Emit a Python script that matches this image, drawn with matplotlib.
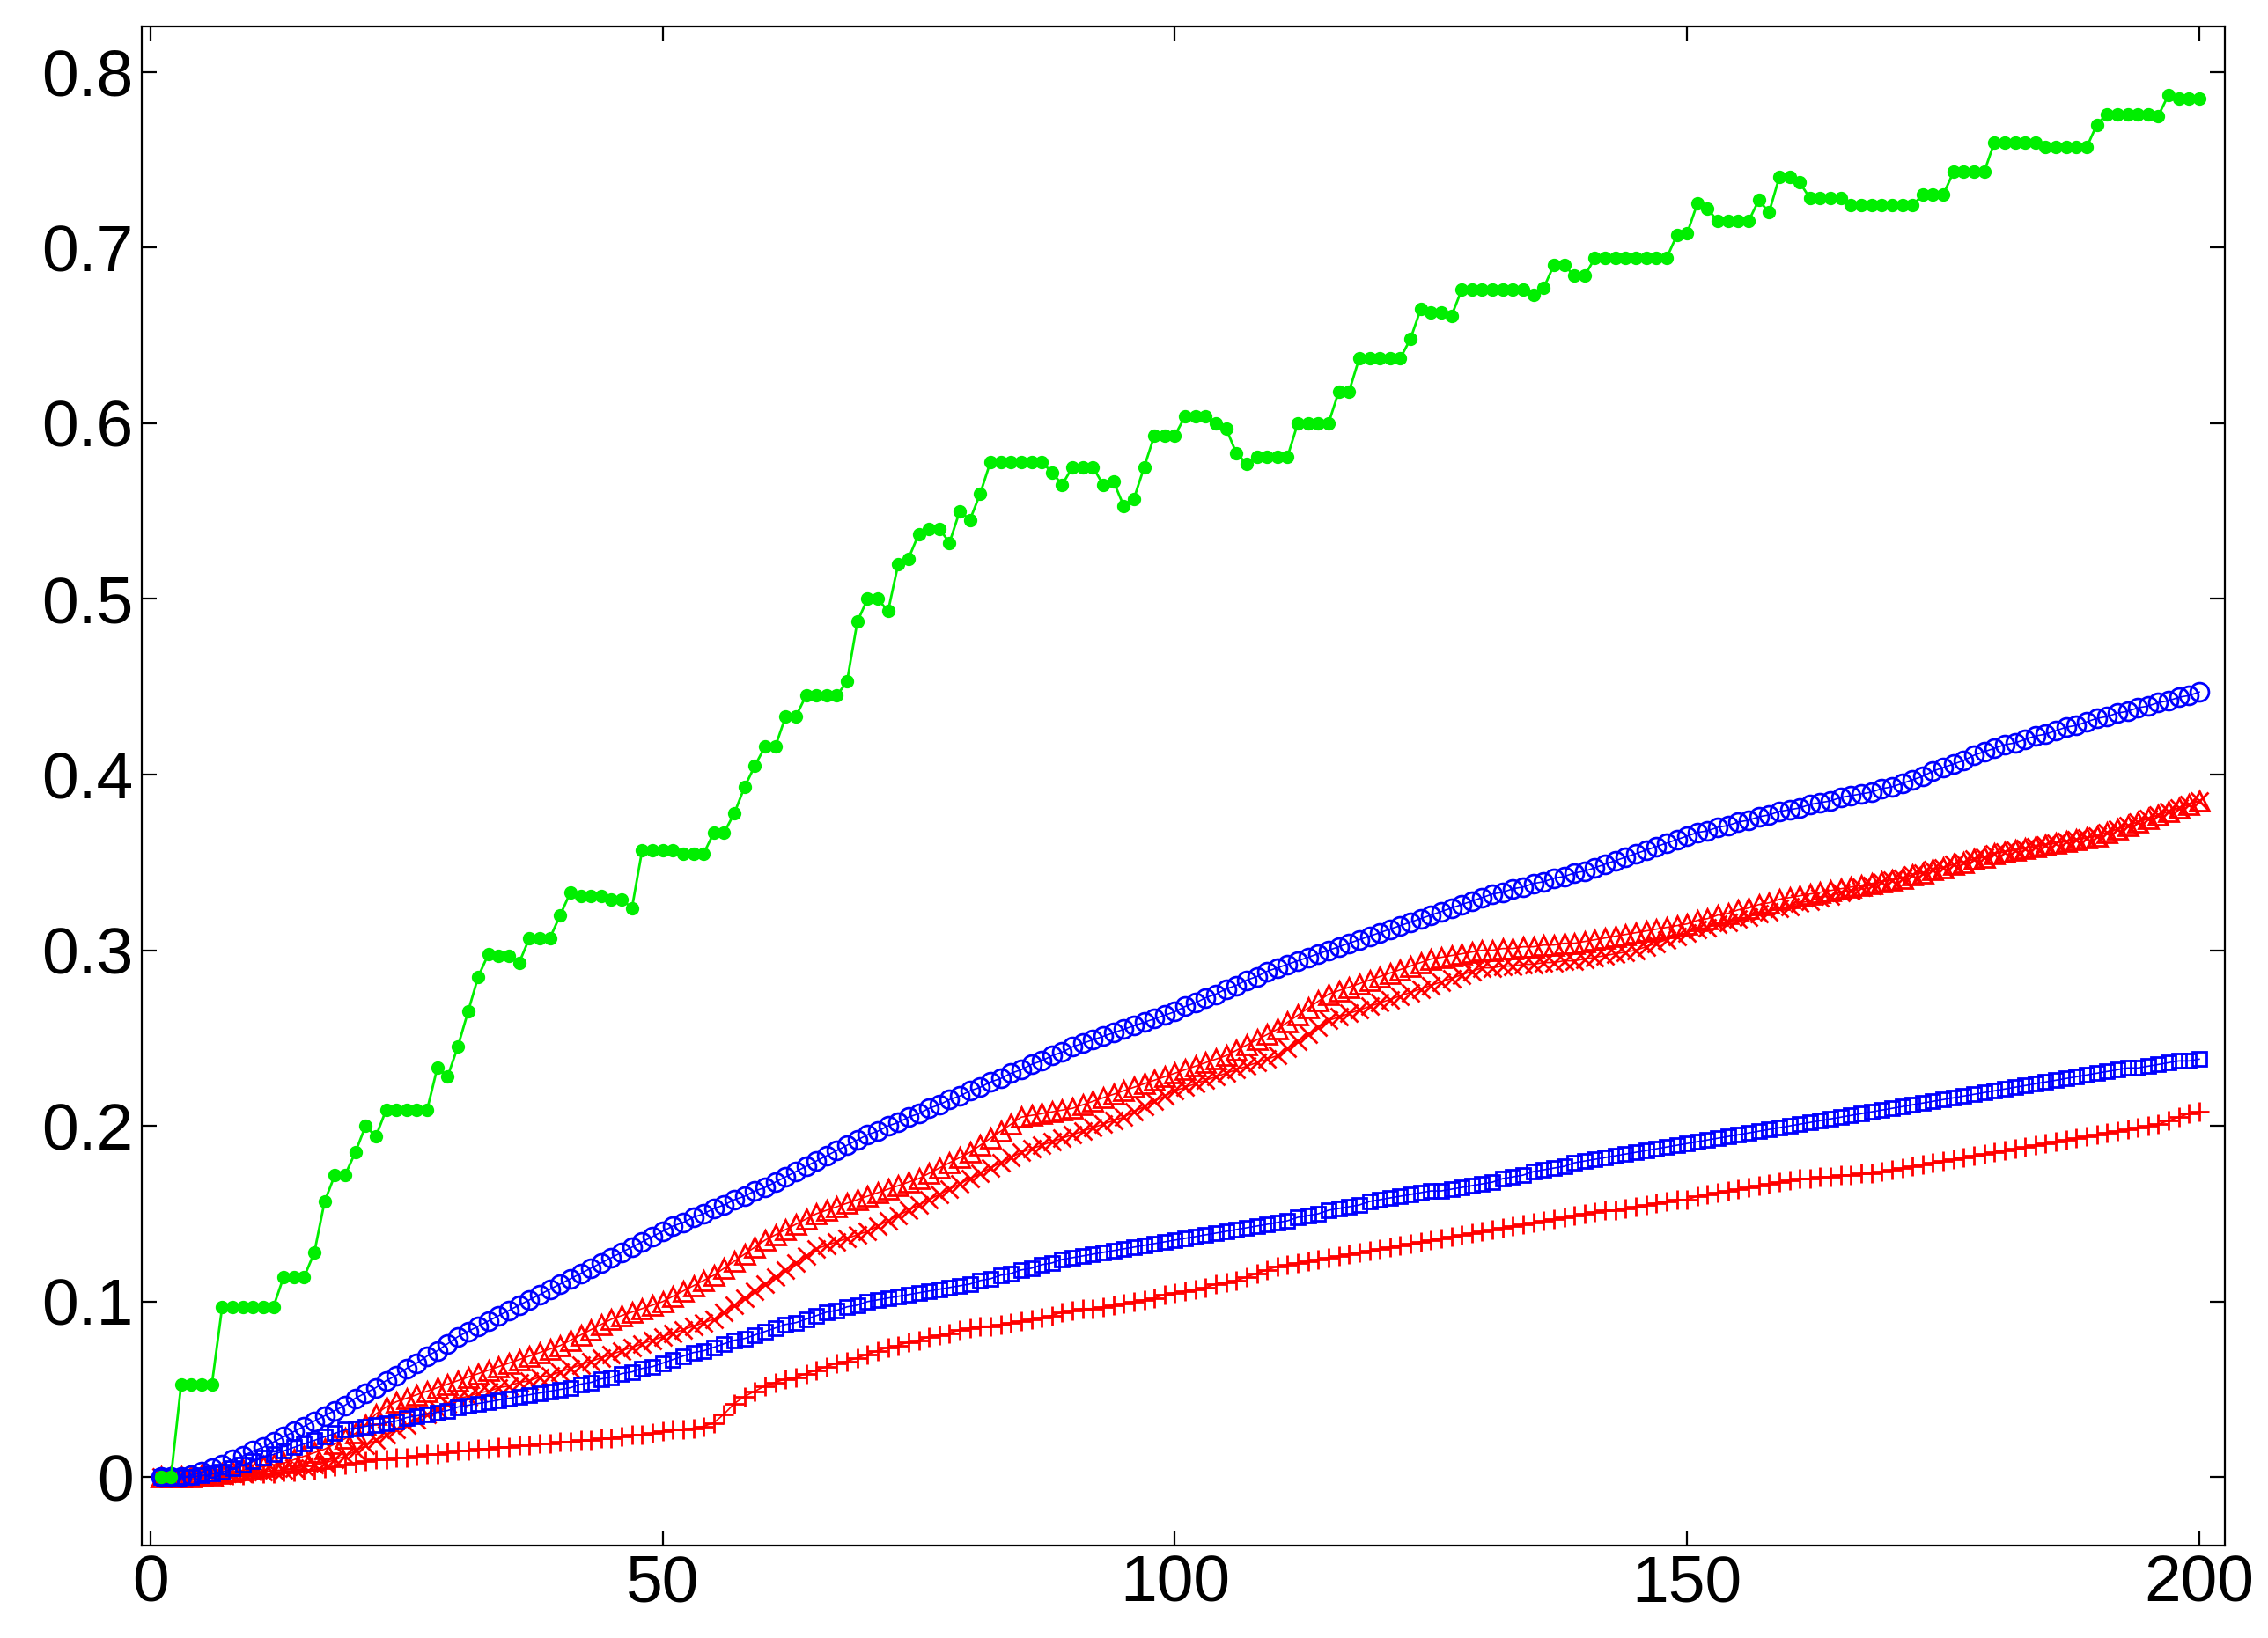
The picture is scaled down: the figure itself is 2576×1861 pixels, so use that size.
import matplotlib
matplotlib.use("Agg")
import matplotlib.pyplot as plt
import numpy as np

x = list(range(1, 201))

green = ([0]*2 + [0.053]*4 + [0.097]*6 + [0.114]*3 + [0.128, 0.157] + [0.172]*2 + [0.185, 0.2, 0.194]
         + [0.209]*5 + [0.233, 0.228, 0.245, 0.265, 0.285, 0.298] + [0.297]*2 + [0.293] + [0.307]*3
         + [0.32, 0.333] + [0.331]*3 + [0.329]*2 + [0.324] + [0.357]*4 + [0.355]*3 + [0.367]*2
         + [0.378, 0.393, 0.405] + [0.416]*2 + [0.433]*2 + [0.445]*4 + [0.453, 0.487] + [0.5]*2
         + [0.493, 0.52, 0.523, 0.537] + [0.54]*2 + [0.532, 0.55, 0.545, 0.56] + [0.578]*6
         + [0.572, 0.565] + [0.575]*3 + [0.565, 0.567, 0.553, 0.557, 0.575] + [0.593]*3 + [0.604]*3
         + [0.6, 0.597, 0.583, 0.577] + [0.581]*4 + [0.6]*4 + [0.618]*2 + [0.637]*5 + [0.648, 0.665]
         + [0.663]*2 + [0.661] + [0.676]*7 + [0.673, 0.677] + [0.69]*2 + [0.684]*2 + [0.694]*8
         + [0.707, 0.708, 0.725, 0.722] + [0.715]*4 + [0.727, 0.72] + [0.74]*2 + [0.737] + [0.728]*4
         + [0.724]*7 + [0.73]*3 + [0.743]*4 + [0.76]*5 + [0.757]*5 + [0.77] + [0.776]*5 + [0.775, 0.787]
         + [0.785]*3)

blue_circle = [0,0,0,1,3,5,7,10,12,15, 17,20,23,26,29,32,35,38,41,45, 48,51,55,58,62,65,69,72,76,80,
    83,86,89,92,95,98,101,104,107,110, 113,116,119,122,125,128,131,134,137,140,
    143,145,148,150,153,155,158,160,163,165, 168,171,174,177,180,183,186,189,192,195,
    197,200,202,205,207,210,212,215,217,220, 222,225,227,230,232,235,237,240,242,245,
    247,249,251,253,255,257,259,261,263,265, 268,270,273,275,278,280,283,285,288,290,
    292,294,296,298,300,302,304,306,308,310, 312,314,316,318,320,322,324,326,328,330,
    332,333,335,336,338,339,341,342,344,345, 347,349,351,353,355,357,359,361,363,365,
    367,368,370,371,373,374,376,377,379,380, 381,383,384,385,387,388,389,390,392,393,
    395,397,399,402,404,406,408,411,413,415, 417,418,420,422,423,425,427,428,430,432,
    433,435,436,438,439,441,442,444,445,447]

blue_square = [0,0,0,0,1,2,3,5,7,9, 11,13,15,17,19,21,23,25,27,28, 29,30,31,32,34,35,36,37,38,40,
    41,42,43,44,45,46,47,48,49,50, 51,53,54,56,57,59,60,62,63,65, 67,69,71,72,74,76,78,79,81,83,
    85,87,88,90,92,94,95,97,98,100, 101,102,103,104,105,106,107,108,109,110,
    112,113,115,116,118,119,121,122,124,125, 126,127,128,129,130,131,132,133,134,135,
    136,137,138,139,140,141,142,143,144,145, 146,148,149,150,152,153,154,155,157,158,
    159,160,161,162,163,163,164,165,166,167, 168,170,171,172,174,175,176,177,179,180,
    181,182,183,184,185,186,187,188,189,190, 191,192,193,194,195,196,197,198,199,200,
    201,202,203,204,205,206,207,208,209,210, 211,212,213,214,215,216,217,218,219,220,
    221,222,223,224,225,226,227,228,229,230, 231,232,233,233,234,235,236,237,237,238]

red_plus = [0,0,0,0,0,0,0,1,1,2, 2,2,3,3,4,4,5,6,7,8, 9,10,10,11,11,12,13,13,14,15,
    15,16,16,17,17,18,18,19,19,20, 20,21,21,22,22,23,24,24,25,26, 27,27,28,29,31,36,42,46,49,52,
    54,56,57,59,61,63,65,66,68,70, 72,74,75,77,78,80,81,82,84,85, 86,86,87,88,89,90,91,92,94,95,
    96,96,97,98,99,100,101,102,104,105, 106,107,108,110,111,112,114,116,118,120,
    121,122,123,124,125,126,127,128,129,130, 131,132,133,134,135,136,137,138,139,140,
    141,142,143,144,145,146,147,148,149,150, 151,152,152,153,154,155,156,157,158,158,
    160,161,162,163,164,165,166,167,168,169, 170,170,171,171,172,172,173,173,174,175,
    176,177,178,179,180,181,182,183,184,185, 186,187,188,189,190,191,192,193,194,195,
    196,197,198,199,200,201,203,205,207,208]

red_triangle = [0,0,0,0,1,1,2,3,4,5, 6,7,8,10,12,14,16,19,22,25, 30,36,40,43,45,47,49,51,53,55,
    57,59,61,63,65,67,69,71,73,75, 78,81,84,87,90,92,94,96,98,100, 103,106,109,112,115,119,123,127,131,135,
    138,141,144,147,150,152,154,156,158,160, 162,164,166,168,170,173,176,179,182,185,
    189,193,197,201,205,206,207,208,209,210, 212,214,216,218,220,222,224,226,228,230,
    232,234,236,238,240,243,246,249,252,255, 259,263,267,271,275,277,279,281,283,285,
    287,289,291,293,295,296,297,298,299,300, 300,301,301,302,302,303,303,304,304,305,
    306,307,308,309,310,311,312,313,314,315, 317,318,320,321,323,324,326,327,329,330,
    331,332,333,334,335,336,337,338,339,340, 341,343,344,346,347,349,350,352,353,355,
    356,357,358,359,360,361,362,363,364,365, 367,369,371,373,375,377,379,381,383,385]

red_cross = [0,0,0,0,0,1,1,2,2,3, 3,4,4,5,6,7,8,10,12,15, 18,21,24,27,30,33,36,39,42,45,
    46,48,49,51,52,54,55,57,58,60, 62,64,66,68,70,72,74,76,78,80, 82,84,86,88,90,94,98,102,106,110,
    114,118,122,126,130,132,134,136,138,140, 143,146,149,152,155,158,161,164,167,170,
    173,176,179,182,185,187,189,191,193,195, 197,199,201,203,205,208,211,214,217,220,
    222,224,226,228,230,232,234,236,238,240, 244,248,252,256,260,262,264,266,268,270,
    272,274,276,278,280,282,284,286,288,290, 290,291,291,292,292,293,293,294,294,295,
    296,297,298,299,300,302,304,306,308,310, 312,313,315,316,318,319,321,322,324,325,
    327,328,330,331,333,334,336,337,339,340, 341,343,344,346,347,349,350,352,353,355,
    356,357,358,359,360,361,362,363,364,365, 367,369,371,373,375,377,379,381,383,385]

def k(v):
    return np.array(v) / 1000.0

plt.rcParams['font.family'] = ['Liberation Sans', 'DejaVu Sans']
fig = plt.figure(figsize=(12.88, 9.305), dpi=200)
ax = fig.add_axes([0.0625, 0.0563, 0.9185, 0.9277])

lw = 0.6
ax.plot(x, k(red_plus), color='red', marker='+', ms=8, lw=lw, mew=1.0)
ax.plot(x, k(red_cross), color='red', marker='x', ms=7, lw=lw, mew=1.0)
ax.plot(x, k(red_triangle), color='red', marker='^', ms=8, lw=lw, mfc='none', mew=1.0)
ax.plot(x, k(blue_square), color='blue', marker='s', ms=6, lw=lw, mfc='none', mew=1.0)
ax.plot(x, k(blue_circle), color='blue', marker='o', ms=7.5, lw=lw, mfc='none', mew=1.0)
n = min(len(x), len(green))
ax.plot(x[:n], green[:n], color='#00ee00', marker='o', ms=4.5, lw=1.0, mfc='#00ee00', mec='#00ee00')

ax.set_xlim(-0.85, 202.5)
ax.set_ylim(-0.039, 0.826)
ax.set_xticks([0, 50, 100, 150, 200])
ax.set_yticks([0, 0.1, 0.2, 0.3, 0.4, 0.5, 0.6, 0.7, 0.8])
ax.set_yticklabels(['0', '0.1', '0.2', '0.3', '0.4', '0.5', '0.6', '0.7', '0.8'])
ax.tick_params(direction='in', top=True, right=True, labelsize=27, length=6, width=0.8)
for s in ax.spines.values():
    s.set_linewidth(0.8)

fig.savefig('out.png', dpi=200)
